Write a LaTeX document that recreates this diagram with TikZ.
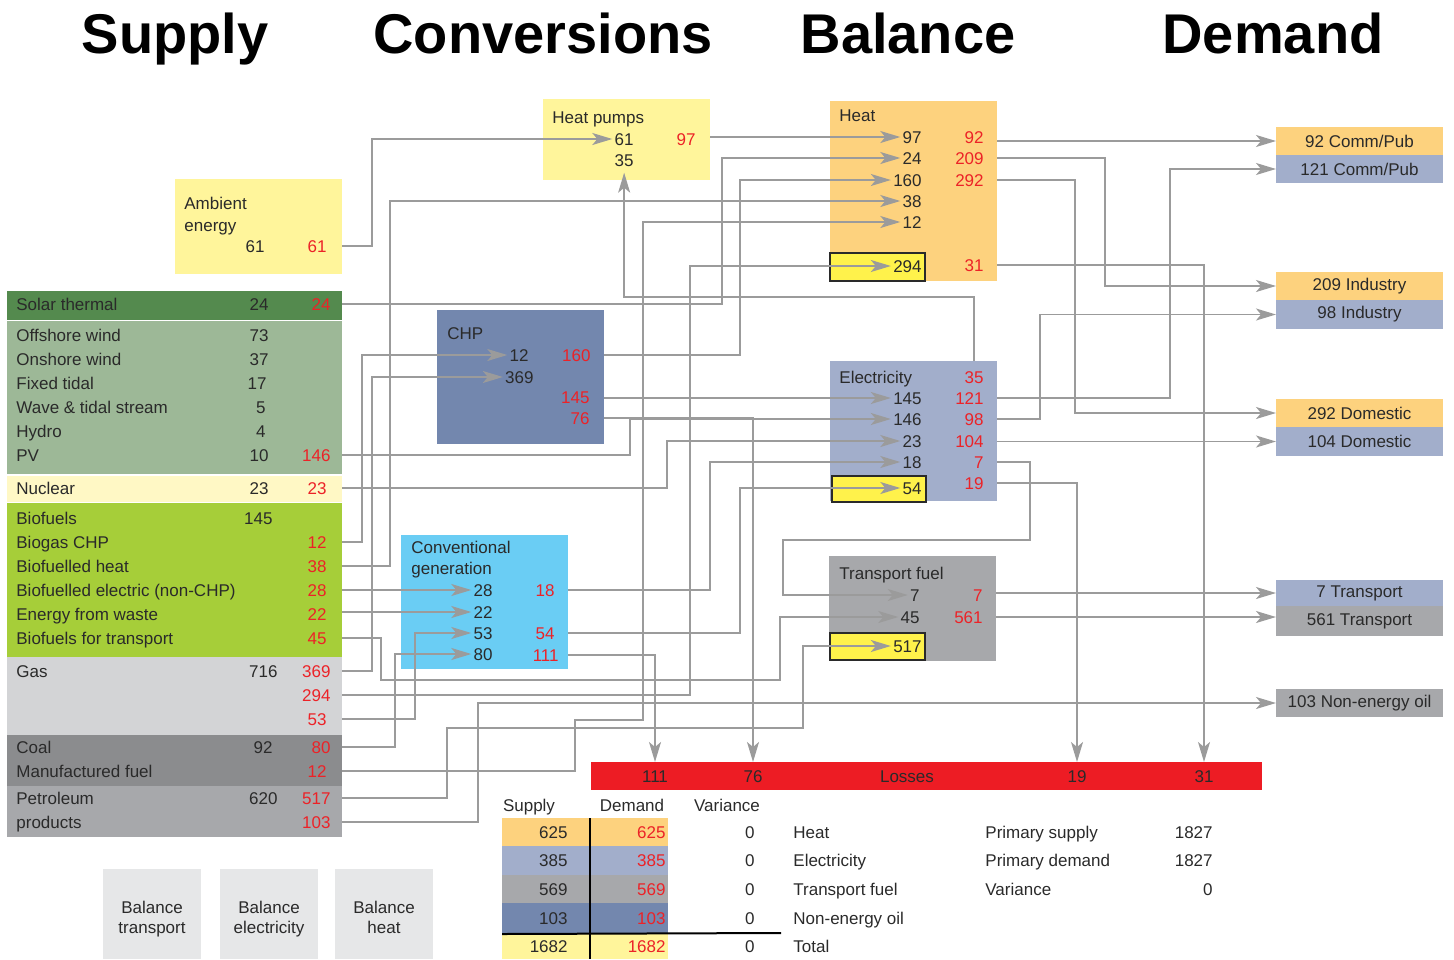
\documentclass[tikz,border=0pt]{standalone}
\usepackage{fontspec}
\setmainfont{Liberation Sans}
\usetikzlibrary{arrows.meta,positioning}

\definecolor{ink}{HTML}{2A2A2A}
\definecolor{numred}{HTML}{EC2227}
\definecolor{flowgray}{HTML}{9B9B9B}
\definecolor{heatc}{HTML}{FDD27E}
\definecolor{elecc}{HTML}{A2AECB}
\definecolor{tfc}{HTML}{A7A8AB}
\definecolor{chpc}{HTML}{7387AE}
\definecolor{convc}{HTML}{6ACDF4}
\definecolor{hpc}{HTML}{FFF59B}
\definecolor{subc}{HTML}{FFF24B}
\definecolor{solc}{HTML}{548A4E}
\definecolor{renc}{HTML}{9DB897}
\definecolor{nucc}{HTML}{FFF8C5}
\definecolor{bioc}{HTML}{A6CE39}
\definecolor{gasc}{HTML}{D3D4D6}
\definecolor{coalc}{HTML}{8B8C8E}
\definecolor{lossc}{HTML}{ED1C24}
\definecolor{btnc}{HTML}{E6E7E8}

\begin{document}
\begin{tikzpicture}[x=0.5pt, y=-0.5pt, font=\fontsize{8.5}{10}\selectfont,
  panel/.style 2 args={anchor=north west, inner sep=0pt, outer sep=0pt, text=ink,
    minimum width=#1*0.5pt, minimum height=#2*0.5pt},
  lbl/.style={anchor=west, inner sep=1pt, text=ink, text height=6.2pt, text depth=0.1pt},
  num/.style={lbl, anchor=east},
  outn/.style={num, text=numred},
  txt/.style={lbl, anchor=center},
  sub/.style 2 args={panel={#1}{#2}, fill=subc, draw=ink, line width=0.6pt},
  button/.style={panel={98}{90}, fill=btnc},
  btntext/.style={align=center, text=ink, inner sep=0pt, text depth=1.8pt},
  flow/.style={draw=flowgray, line width=0.75pt, -{Stealth[length=10pt, width=6pt, inset=2.5pt]}},
  title/.style={font=\fontsize{28}{30}\selectfont\bfseries, anchor=base, text=black}]

\useasboundingbox (0,0) rectangle (1454,959);

% titles
\node[title] (t-sup) at (175,53) {Supply};
\node[title] (t-con) at (543,53) {Conversions};
\node[title] (t-bal) at (908,53) {Balance};
\node[title] (t-dem) at (1273,53) {Demand};

% supply
\node[panel={167}{95}, fill=hpc] (amb) at (175,179) {};
\node[panel={335}{29}, fill=solc] (solar) at (7,291) {};
\node[panel={335}{153}, fill=renc] (renew) at (7,321) {};
\node[panel={335}{26}, fill=nucc] (nuc) at (7,476) {};
\node[panel={335}{154}, fill=bioc] (bio) at (7,503) {};
\node[panel={335}{78}, fill=gasc] (gas) at (7,657) {};
\node[panel={335}{51}, fill=coalc] (coal) at (7,735) {};
\node[panel={335}{51}, fill=tfc] (petrol) at (7,786) {};

\node[lbl] at (182,203) {Ambient};
\node[lbl] at (182,225) {energy};
\node[num] at (267,246) {61};
\node[outn] (amb-o) at (329,246) {61};

\node[lbl] at (14,304) {Solar thermal};
\node[num] at (271,304) {24};
\node[outn] (sol-o) at (333,304) {24};

\node[lbl] at (14,335) {Offshore wind};   \node[num] at (271,335) {73};
\node[lbl] at (14,359) {Onshore wind};    \node[num] at (271,359) {37};
\node[lbl] at (14,383) {Fixed tidal};     \node[num] at (269,383) {17};
\node[lbl] at (14,407) {Wave \& tidal stream}; \node[num] at (268,407) {5};
\node[lbl] at (14,431) {Hydro};           \node[num] at (268,431) {4};
\node[lbl] at (14,455) {PV};              \node[num] at (271,455) {10};
\node[outn] (pv-o) at (333,455) {146};

\node[lbl] at (14,488) {Nuclear};
\node[num] at (271,488) {23};
\node[outn] (nuc-o) at (329,488) {23};

\node[lbl] at (14,518) {Biofuels};        \node[num] at (275,518) {145};
\node[lbl] at (14,542) {Biogas CHP};
\node[outn] (bchp-o) at (329,542) {12};
\node[lbl] at (14,566) {Biofuelled heat};
\node[outn] (bheat-o) at (329,566) {38};
\node[lbl] at (14,590) {Biofuelled electric (non-CHP)};
\node[outn] (belec-o) at (329,590) {28};
\node[lbl] at (14,614) {Energy from waste};
\node[outn] (waste-o) at (329,614) {22};
\node[lbl] at (14,638) {Biofuels for transport};
\node[outn] (btr-o) at (329,638) {45};

\node[lbl] at (14,671) {Gas};             \node[num] at (280,671) {716};
\node[outn] (gas-o369) at (333,671) {369};
\node[outn] (gas-o294) at (333,695) {294};
\node[outn] (gas-o53) at (329,719) {53};

\node[lbl] at (14,747) {Coal};            \node[num] at (275,747) {92};
\node[outn] (coal-o) at (333,747) {80};
\node[lbl] at (14,771) {Manufactured fuel};
\node[outn] (mf-o) at (329,771) {12};

\node[lbl] at (14,798) {Petroleum};       \node[num] at (280,798) {620};
\node[outn] (pet-o517) at (333,798) {517};
\node[lbl] at (14,822) {products};
\node[outn] (pet-o103) at (333,822) {103};

% conversions
\node[panel={167}{81}, fill=hpc] (hp) at (543,99) {};
\node[lbl] at (550,117) {Heat pumps};
\node[num] (hp-a) at (636,139) {61};
\node[num] (hp-e) at (636,160) {35};
\node[outn] (hp-o) at (698,139) {97};

\node[panel={167}{134}, fill=chpc] (chp) at (437,310) {};
\node[lbl] at (445,333) {CHP};
\node[num] (chp-b) at (531,355) {12};
\node[num] (chp-g) at (536,377) {369};
\node[outn] (chp-h) at (593,355) {160};
\node[outn] (chp-e) at (592,397) {145};
\node[outn] (chp-l) at (592,418) {76};

\node[panel={167}{134}, fill=convc] (conv) at (401,535) {};
\node[lbl] at (409,547) {Conventional};
\node[lbl] at (409,568) {generation};
\node[num] (conv-be) at (495,590) {28};
\node[num] (conv-w) at (495,612) {22};
\node[num] (conv-g) at (495,633) {53};
\node[num] (conv-c) at (495,654) {80};
\node[outn] (conv-o18) at (557,590) {18};
\node[outn] (conv-o54) at (557,633) {54};
\node[outn] (conv-l) at (561,655) {111};

% balance
\node[panel={167}{180}, fill=heatc] (heat) at (830,101) {};
\node[sub={95}{28}] (heat-y) at (830,253) {};
\node[lbl] at (837,115) {Heat};
\node[num] (heat-hp) at (924,137) {97};
\node[num] (heat-s) at (924,158) {24};
\node[num] (heat-c) at (924,180) {160};
\node[num] (heat-b) at (924,201) {38};
\node[num] (heat-m) at (924,222) {12};
\node[num] (heat-g) at (924,266) {294};
\node[outn] (heat-o92) at (986,137) {92};
\node[outn] (heat-o209) at (986,158) {209};
\node[outn] (heat-o292) at (986,180) {292};
\node[outn] (heat-l) at (986,265) {31};

\node[panel={167}{140}, fill=elecc] (elec) at (830,361) {};
\node[sub={94}{26}] (elec-y) at (832,476) {};
\node[lbl] at (837,377) {Electricity};
\node[outn] (el-o35) at (986,377) {35};
\node[num] (el-c) at (924,398) {145};
\node[num] (el-r) at (924,419) {146};
\node[num] (el-n) at (924,441) {23};
\node[num] (el-18) at (924,462) {18};
\node[num] (el-54) at (924,488) {54};
\node[outn] (el-o121) at (986,398) {121};
\node[outn] (el-o98) at (986,419) {98};
\node[outn] (el-o104) at (986,441) {104};
\node[outn] (el-o7) at (986,462) {7};
\node[outn] (el-l) at (986,483) {19};

\node[panel={167}{105}, fill=tfc] (tf) at (829,556) {};
\node[sub={95}{27}] (tf-y) at (830,633) {};
\node[lbl] at (837,573) {Transport fuel};
\node[num] (tf-e) at (922,595) {7};
\node[num] (tf-b) at (922,617) {45};
\node[num] (tf-p) at (924,646) {517};
\node[outn] (tf-o7) at (985,595) {7};
\node[outn] (tf-o561) at (985,617) {561};

% demand
\node[panel={167}{28}, fill=heatc] (d-comh) at (1276,127) {92 Comm/Pub};
\node[panel={167}{28}, fill=elecc] (d-come) at (1276,155) {121 Comm/Pub};
\node[panel={167}{28}, fill=heatc] (d-indh) at (1276,272) {209 Industry};
\node[panel={167}{29}, fill=elecc] (d-inde) at (1276,300) {98 Industry};
\node[panel={167}{28}, fill=heatc] (d-domh) at (1276,399) {292 Domestic};
\node[panel={167}{29}, fill=elecc] (d-dome) at (1276,427) {104 Domestic};
\node[panel={167}{26}, fill=elecc] (d-tre) at (1276,580) {7 Transport};
\node[panel={167}{30}, fill=tfc] (d-trf) at (1276,606) {561 Transport};
\node[panel={167}{28}, fill=tfc] (d-neo) at (1276,689) {103 Non-energy oil};

% losses
\node[panel={671}{28}, fill=lossc] (loss) at (591,762) {};
\node[txt] (l111) at (655,776) {111};
\node[txt] (l76) at (753,776) {76};
\node[txt] (l-name) at (907,776) {Losses};
\node[txt] (l19) at (1077,776) {19};
\node[txt] (l31) at (1204,776) {31};

% balance table
\node[txt] at (529,805) {Supply};
\node[txt] at (632,805) {Demand};
\node[txt] at (727,805) {Variance};
\foreach \y/\h/\c/\s/\n [count=\i] in {818/28/heatc/625/Heat, 846/29/elecc/385/Electricity,
    875/28/tfc/569/Transport fuel, 903/31/chpc/103/Non-energy oil, 934/25/hpc/1682/Total} {
  \node[panel={88}{\h}, fill=\c] (ts\i) at (502,\y) {};
  \node[panel={78}{\h}, fill=\c] (td\i) at (590,\y) {};
  \node[num] at (570,\y+\h/2) {\s};
  \node[outn] at (668,\y+\h/2) {\s};
  \node[num] at (757,\y+\h/2) {0};
  \node[lbl] at (791,\y+\h/2) {\n};
}
\draw[black, line width=1pt] (ts1.north east) -- (ts5.south east);
\draw[black, line width=1pt] (ts5.north west) -- (781,933);

\node[lbl] at (983,832) {Primary supply};  \node[num] at (1215,832) {1827};
\node[lbl] at (983,860) {Primary demand};  \node[num] at (1215,860) {1827};
\node[lbl] at (983,889) {Variance};        \node[num] at (1215,889) {0};

% balance buttons
\node[button] (b-tr) at (103,869) {};
\node[button] (b-el) at (220,869) {};
\node[button] (b-ht) at (335,869) {};
\node[btntext] at ([yshift=-2.5pt]b-tr.center) {Balance\\transport};
\node[btntext] at ([yshift=-2.5pt]b-el.center) {Balance\\electricity};
\node[btntext] at ([yshift=-2.5pt]b-ht.center) {Balance\\heat};

% flows into conversions
\draw[flow] (amb.east |- amb-o) -| (372,0 |- hp-a) -- (hp-a.west);
\draw[flow] (bio.east |- bchp-o) -| (362,0 |- chp-b) -- (chp-b.west);
\draw[flow] (gas.east |- gas-o369) -| (372,0 |- chp-g) -- (chp-g.west);
\draw[flow] (bio.east |- belec-o) -- (conv-be.west);
\draw[flow] (bio.east |- conv-w) -- (conv-w.west);
\draw[flow] (gas.east |- gas-o53) -| (415,0 |- conv-g) -- (conv-g.west);
\draw[flow] (coal.east |- coal-o) -| (395,0 |- conv-c) -- (conv-c.west);

% flows into heat
\draw[flow] (hp.east |- heat-hp) -- (heat-hp.west);
\draw[flow] (solar.east |- sol-o) -| (722,0 |- heat-s) -- (heat-s.west);
\draw[flow] (chp.east |- chp-h) -| (740,0 |- heat-c) -- (heat-c.west);
\draw[flow] (bio.east |- bheat-o) -| (390,0 |- heat-b) -- (heat-b.west);
\draw[flow] (coal.east |- mf-o) -| (575,720) -| (643,0 |- heat-m) -- (heat-m.west);
\draw[flow] (gas.east |- gas-o294) -| (690,0 |- heat-g) -- (heat-g.west);

% flows into electricity
\draw[flow] (chp.east |- el-c) -- (el-c.west);
\draw[flow] (renew.east |- pv-o) -| (630,0 |- el-r) -- (el-r.west);
\draw[flow] (nuc.east |- nuc-o) -| (667,0 |- el-n) -- (el-n.west);
\draw[flow] (conv.east |- conv-o18) -| (710,0 |- el-18) -- (el-18.west);
\draw[flow] (conv.east |- conv-o54) -| (740,0 |- el-54) -- (el-54.west);
\draw[flow] (el-o35 |- elec.north) -- (el-o35 |- 0,297) -| ([yshift=-2pt]hp-e.south);

% flows into transport fuel
\draw[flow] (elec.east |- el-o7) -| (1030,540) -| (783,0 |- tf-e) -- (tf-e.west);
\draw[flow] (bio.east |- btr-o) -| (381,680) -| (780,0 |- tf-b) -- (tf-b.west);
\draw[flow] (petrol.east |- pet-o517) -| (447,728) -| (803,0 |- tf-p) -- (tf-p.west);

% flows to demand
\draw[flow] (heat.east |- d-comh) -- (d-comh.west);
\draw[flow] (elec.east |- el-o121) -| (1170,0 |- d-come) -- (d-come.west);
\draw[flow] (heat.east |- heat-o209) -| (1105,0 |- d-indh) -- (d-indh.west);
\draw[flow] (elec.east |- el-o98) -| (1040,0 |- d-inde) -- (d-inde.west);
\draw[flow] (heat.east |- heat-o292) -| (1075,0 |- d-domh) -- (d-domh.west);
\draw[flow] (elec.east |- d-dome) -- (d-dome.west);
\draw[flow] (tf.east |- d-tre) -- (d-tre.west);
\draw[flow] (tf.east |- tf-o561) -- (d-trf.west |- tf-o561);
\draw[flow] (petrol.east |- pet-o103) -| (478,0 |- d-neo) -- (d-neo.west);

% losses
\draw[flow] (conv.east |- conv-l) -| (l111 |- loss.north);
\draw[flow] (chp.east |- chp-l) -| (l76 |- loss.north);
\draw[flow] (elec.east |- el-l) -| (l19 |- loss.north);
\draw[flow] (heat.east |- heat-l) -| (l31 |- loss.north);
\end{tikzpicture}
\end{document}
